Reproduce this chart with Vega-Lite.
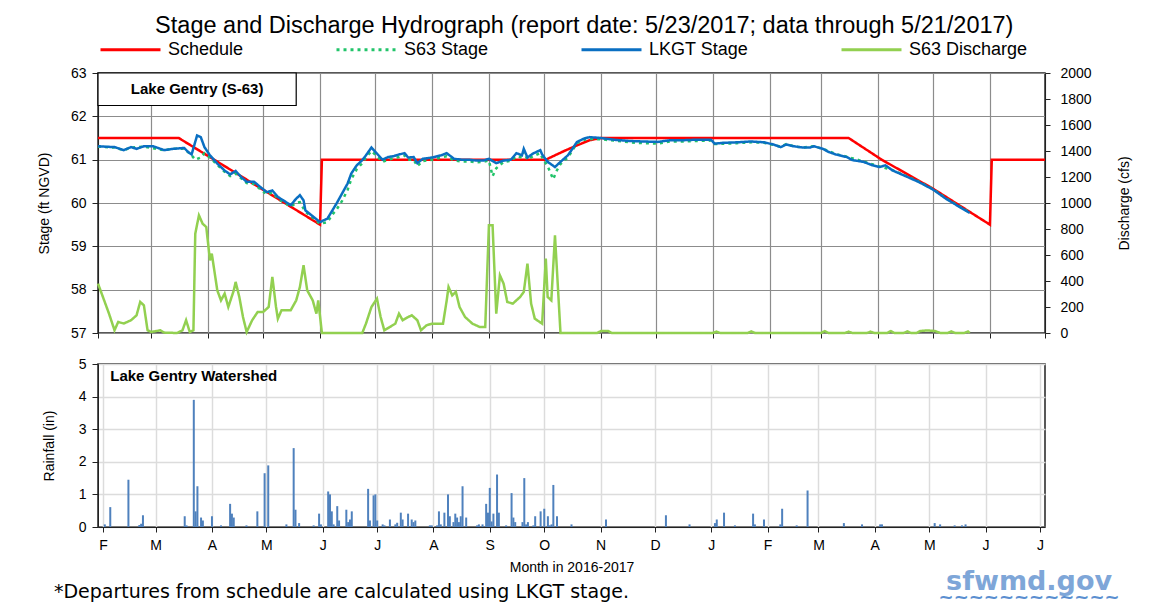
{
  "$schema": "https://vega.github.io/schema/vega-lite/v6.json",
  "background": "white",
  "padding": {"left": 36, "top": 13, "right": 5, "bottom": 2},
  "title": {"text": "Stage and Discharge Hydrograph (report date: 5/23/2017; data through 5/21/2017)", "anchor": "middle", "fontSize": 23.5, "fontWeight": "normal", "font": "Liberation Sans", "color": "#000", "offset": -20},
  "config": {
    "font": "Liberation Sans",
    "view": {"stroke": "#222", "strokeWidth": 1.5},
    "axis": {"labelFont": "Liberation Sans", "labelFontSize": 14, "labelColor": "#000", "titleFont": "Liberation Sans", "titleFontSize": 14, "titleFontWeight": "normal", "titleColor": "#000", "domainColor": "#222", "tickColor": "#222", "labelOverlap": false}
  },
  "datasets": {
    "lines": [
      {"date":"2016-02-01","series":"Schedule","v":61.5},{"date":"2016-03-16","series":"Schedule","v":61.5},{"date":"2016-06-01","series":"Schedule","v":59.5},{"date":"2016-06-02","series":"Schedule","v":61.0},{"date":"2016-10-02","series":"Schedule","v":61.0},{"date":"2016-10-06","series":"Schedule","v":61.08},{"date":"2016-10-12","series":"Schedule","v":61.2},{"date":"2016-10-19","series":"Schedule","v":61.33},{"date":"2016-10-26","series":"Schedule","v":61.45},{"date":"2016-11-01","series":"Schedule","v":61.5},{"date":"2017-03-16","series":"Schedule","v":61.5},{"date":"2017-04-03","series":"Schedule","v":61.0},{"date":"2017-05-01","series":"Schedule","v":60.33},{"date":"2017-06-01","series":"Schedule","v":59.5},{"date":"2017-06-02","series":"Schedule","v":61.0},{"date":"2017-07-01","series":"Schedule","v":61.0},

      {"date":"2016-02-01","series":"S63 Stage","v":61.3},{"date":"2016-02-10","series":"S63 Stage","v":61.28},{"date":"2016-02-15","series":"S63 Stage","v":61.22},{"date":"2016-02-19","series":"S63 Stage","v":61.28},{"date":"2016-02-26","series":"S63 Stage","v":61.3},{"date":"2016-03-08","series":"S63 Stage","v":61.22},{"date":"2016-03-13","series":"S63 Stage","v":61.25},{"date":"2016-03-19","series":"S63 Stage","v":61.25},{"date":"2016-03-23","series":"S63 Stage","v":61.1},{"date":"2016-03-25","series":"S63 Stage","v":61.0},{"date":"2016-03-28","series":"S63 Stage","v":61.05},{"date":"2016-03-30","series":"S63 Stage","v":61.15},{"date":"2016-04-02","series":"S63 Stage","v":61.05},{"date":"2016-04-06","series":"S63 Stage","v":60.88},{"date":"2016-04-10","series":"S63 Stage","v":60.72},{"date":"2016-04-13","series":"S63 Stage","v":60.62},{"date":"2016-04-16","series":"S63 Stage","v":60.68},{"date":"2016-04-19","series":"S63 Stage","v":60.57},{"date":"2016-04-22","series":"S63 Stage","v":60.46},{"date":"2016-04-26","series":"S63 Stage","v":60.44},{"date":"2016-04-30","series":"S63 Stage","v":60.3},{"date":"2016-05-03","series":"S63 Stage","v":60.2},{"date":"2016-05-06","series":"S63 Stage","v":60.24},{"date":"2016-05-09","series":"S63 Stage","v":60.1},{"date":"2016-05-12","series":"S63 Stage","v":60.02},{"date":"2016-05-16","series":"S63 Stage","v":59.92},{"date":"2016-05-19","series":"S63 Stage","v":60.0},{"date":"2016-05-21","series":"S63 Stage","v":60.02},{"date":"2016-05-24","series":"S63 Stage","v":59.8},{"date":"2016-05-29","series":"S63 Stage","v":59.62},{"date":"2016-06-01","series":"S63 Stage","v":59.52},{"date":"2016-06-05","series":"S63 Stage","v":59.56},{"date":"2016-06-08","series":"S63 Stage","v":59.75},{"date":"2016-06-10","series":"S63 Stage","v":59.85},{"date":"2016-06-13","series":"S63 Stage","v":60.05},{"date":"2016-06-16","series":"S63 Stage","v":60.3},{"date":"2016-06-18","series":"S63 Stage","v":60.55},{"date":"2016-06-21","series":"S63 Stage","v":60.78},{"date":"2016-06-24","series":"S63 Stage","v":60.92},{"date":"2016-06-26","series":"S63 Stage","v":61.05},{"date":"2016-06-29","series":"S63 Stage","v":61.2},{"date":"2016-07-02","series":"S63 Stage","v":61.08},{"date":"2016-07-05","series":"S63 Stage","v":60.95},{"date":"2016-07-08","series":"S63 Stage","v":61.0},{"date":"2016-07-11","series":"S63 Stage","v":61.03},{"date":"2016-07-14","series":"S63 Stage","v":61.06},{"date":"2016-07-17","series":"S63 Stage","v":61.1},{"date":"2016-07-19","series":"S63 Stage","v":61.0},{"date":"2016-07-22","series":"S63 Stage","v":61.0},{"date":"2016-07-24","series":"S63 Stage","v":60.85},{"date":"2016-07-27","series":"S63 Stage","v":60.97},{"date":"2016-08-01","series":"S63 Stage","v":61.0},{"date":"2016-08-06","series":"S63 Stage","v":61.05},{"date":"2016-08-09","series":"S63 Stage","v":61.08},{"date":"2016-08-13","series":"S63 Stage","v":60.98},{"date":"2016-08-17","series":"S63 Stage","v":60.96},{"date":"2016-08-21","series":"S63 Stage","v":60.96},{"date":"2016-08-25","series":"S63 Stage","v":60.94},{"date":"2016-08-29","series":"S63 Stage","v":60.95},{"date":"2016-09-01","series":"S63 Stage","v":60.98},{"date":"2016-09-03","series":"S63 Stage","v":60.62},{"date":"2016-09-05","series":"S63 Stage","v":60.8},{"date":"2016-09-09","series":"S63 Stage","v":60.95},{"date":"2016-09-13","series":"S63 Stage","v":60.97},{"date":"2016-09-16","series":"S63 Stage","v":61.08},{"date":"2016-09-19","series":"S63 Stage","v":61.05},{"date":"2016-09-20","series":"S63 Stage","v":61.18},{"date":"2016-09-22","series":"S63 Stage","v":61.0},{"date":"2016-09-25","series":"S63 Stage","v":61.08},{"date":"2016-09-29","series":"S63 Stage","v":61.15},{"date":"2016-09-30","series":"S63 Stage","v":61.05},{"date":"2016-10-03","series":"S63 Stage","v":60.85},{"date":"2016-10-06","series":"S63 Stage","v":60.55},{"date":"2016-10-08","series":"S63 Stage","v":60.75},{"date":"2016-10-10","series":"S63 Stage","v":60.9},{"date":"2016-10-14","series":"S63 Stage","v":61.05},{"date":"2016-10-16","series":"S63 Stage","v":61.18},{"date":"2016-10-19","series":"S63 Stage","v":61.38},{"date":"2016-10-23","series":"S63 Stage","v":61.46},{"date":"2016-10-26","series":"S63 Stage","v":61.48},{"date":"2016-11-01","series":"S63 Stage","v":61.47},{"date":"2016-11-08","series":"S63 Stage","v":61.44},{"date":"2016-11-17","series":"S63 Stage","v":61.4},{"date":"2016-11-24","series":"S63 Stage","v":61.38},{"date":"2016-12-02","series":"S63 Stage","v":61.37},{"date":"2016-12-09","series":"S63 Stage","v":61.42},{"date":"2016-12-16","series":"S63 Stage","v":61.42},{"date":"2016-12-23","series":"S63 Stage","v":61.43},{"date":"2016-12-31","series":"S63 Stage","v":61.44},{"date":"2017-01-02","series":"S63 Stage","v":61.36},{"date":"2017-01-07","series":"S63 Stage","v":61.37},{"date":"2017-01-14","series":"S63 Stage","v":61.38},{"date":"2017-01-22","series":"S63 Stage","v":61.4},{"date":"2017-01-29","series":"S63 Stage","v":61.39},{"date":"2017-02-03","series":"S63 Stage","v":61.34},{"date":"2017-02-07","series":"S63 Stage","v":61.3},{"date":"2017-02-10","series":"S63 Stage","v":61.36},{"date":"2017-02-14","series":"S63 Stage","v":61.31},{"date":"2017-02-19","series":"S63 Stage","v":61.28},{"date":"2017-02-25","series":"S63 Stage","v":61.31},{"date":"2017-03-02","series":"S63 Stage","v":61.25},{"date":"2017-03-09","series":"S63 Stage","v":61.13},{"date":"2017-03-15","series":"S63 Stage","v":61.07},{"date":"2017-03-24","series":"S63 Stage","v":60.96},{"date":"2017-04-02","series":"S63 Stage","v":60.84},{"date":"2017-04-09","series":"S63 Stage","v":60.76},{"date":"2017-04-16","series":"S63 Stage","v":60.63},{"date":"2017-04-23","series":"S63 Stage","v":60.5},{"date":"2017-05-01","series":"S63 Stage","v":60.32},{"date":"2017-05-08","series":"S63 Stage","v":60.11},{"date":"2017-05-15","series":"S63 Stage","v":59.93},{"date":"2017-05-21","series":"S63 Stage","v":59.78},

      {"date":"2016-02-01","series":"LKGT Stage","v":61.31},{"date":"2016-02-05","series":"LKGT Stage","v":61.3},{"date":"2016-02-10","series":"LKGT Stage","v":61.29},{"date":"2016-02-15","series":"LKGT Stage","v":61.22},{"date":"2016-02-19","series":"LKGT Stage","v":61.29},{"date":"2016-02-22","series":"LKGT Stage","v":61.25},{"date":"2016-02-26","series":"LKGT Stage","v":61.31},{"date":"2016-03-02","series":"LKGT Stage","v":61.31},{"date":"2016-03-08","series":"LKGT Stage","v":61.22},{"date":"2016-03-13","series":"LKGT Stage","v":61.25},{"date":"2016-03-19","series":"LKGT Stage","v":61.27},{"date":"2016-03-21","series":"LKGT Stage","v":61.18},{"date":"2016-03-23","series":"LKGT Stage","v":61.12},{"date":"2016-03-26","series":"LKGT Stage","v":61.56},{"date":"2016-03-28","series":"LKGT Stage","v":61.52},{"date":"2016-03-30","series":"LKGT Stage","v":61.29},{"date":"2016-04-02","series":"LKGT Stage","v":61.1},{"date":"2016-04-06","series":"LKGT Stage","v":60.91},{"date":"2016-04-10","series":"LKGT Stage","v":60.75},{"date":"2016-04-13","series":"LKGT Stage","v":60.66},{"date":"2016-04-16","series":"LKGT Stage","v":60.74},{"date":"2016-04-19","series":"LKGT Stage","v":60.6},{"date":"2016-04-22","series":"LKGT Stage","v":60.49},{"date":"2016-04-26","series":"LKGT Stage","v":60.49},{"date":"2016-04-30","series":"LKGT Stage","v":60.35},{"date":"2016-05-03","series":"LKGT Stage","v":60.25},{"date":"2016-05-06","series":"LKGT Stage","v":60.29},{"date":"2016-05-09","series":"LKGT Stage","v":60.14},{"date":"2016-05-12","series":"LKGT Stage","v":60.06},{"date":"2016-05-16","series":"LKGT Stage","v":59.95},{"date":"2016-05-19","series":"LKGT Stage","v":60.1},{"date":"2016-05-21","series":"LKGT Stage","v":60.18},{"date":"2016-05-23","series":"LKGT Stage","v":60.06},{"date":"2016-05-24","series":"LKGT Stage","v":59.83},{"date":"2016-05-29","series":"LKGT Stage","v":59.66},{"date":"2016-06-01","series":"LKGT Stage","v":59.56},{"date":"2016-06-05","series":"LKGT Stage","v":59.64},{"date":"2016-06-08","series":"LKGT Stage","v":59.85},{"date":"2016-06-10","series":"LKGT Stage","v":59.99},{"date":"2016-06-13","series":"LKGT Stage","v":60.22},{"date":"2016-06-16","series":"LKGT Stage","v":60.45},{"date":"2016-06-18","series":"LKGT Stage","v":60.68},{"date":"2016-06-21","series":"LKGT Stage","v":60.87},{"date":"2016-06-24","series":"LKGT Stage","v":60.99},{"date":"2016-06-26","series":"LKGT Stage","v":61.1},{"date":"2016-06-29","series":"LKGT Stage","v":61.28},{"date":"2016-07-02","series":"LKGT Stage","v":61.14},{"date":"2016-07-05","series":"LKGT Stage","v":61.0},{"date":"2016-07-08","series":"LKGT Stage","v":61.06},{"date":"2016-07-11","series":"LKGT Stage","v":61.08},{"date":"2016-07-14","series":"LKGT Stage","v":61.12},{"date":"2016-07-17","series":"LKGT Stage","v":61.15},{"date":"2016-07-19","series":"LKGT Stage","v":61.05},{"date":"2016-07-22","series":"LKGT Stage","v":61.06},{"date":"2016-07-24","series":"LKGT Stage","v":60.92},{"date":"2016-07-27","series":"LKGT Stage","v":61.02},{"date":"2016-08-01","series":"LKGT Stage","v":61.05},{"date":"2016-08-06","series":"LKGT Stage","v":61.1},{"date":"2016-08-09","series":"LKGT Stage","v":61.15},{"date":"2016-08-13","series":"LKGT Stage","v":61.02},{"date":"2016-08-17","series":"LKGT Stage","v":61.0},{"date":"2016-08-21","series":"LKGT Stage","v":61.0},{"date":"2016-08-25","series":"LKGT Stage","v":60.98},{"date":"2016-08-29","series":"LKGT Stage","v":60.98},{"date":"2016-09-01","series":"LKGT Stage","v":61.02},{"date":"2016-09-05","series":"LKGT Stage","v":60.92},{"date":"2016-09-09","series":"LKGT Stage","v":60.98},{"date":"2016-09-13","series":"LKGT Stage","v":61.0},{"date":"2016-09-16","series":"LKGT Stage","v":61.15},{"date":"2016-09-19","series":"LKGT Stage","v":61.1},{"date":"2016-09-20","series":"LKGT Stage","v":61.25},{"date":"2016-09-22","series":"LKGT Stage","v":61.05},{"date":"2016-09-25","series":"LKGT Stage","v":61.14},{"date":"2016-09-29","series":"LKGT Stage","v":61.22},{"date":"2016-09-30","series":"LKGT Stage","v":61.12},{"date":"2016-10-03","series":"LKGT Stage","v":60.95},{"date":"2016-10-07","series":"LKGT Stage","v":60.83},{"date":"2016-10-10","series":"LKGT Stage","v":60.95},{"date":"2016-10-14","series":"LKGT Stage","v":61.1},{"date":"2016-10-16","series":"LKGT Stage","v":61.22},{"date":"2016-10-19","series":"LKGT Stage","v":61.41},{"date":"2016-10-23","series":"LKGT Stage","v":61.49},{"date":"2016-10-26","series":"LKGT Stage","v":61.52},{"date":"2016-11-01","series":"LKGT Stage","v":61.5},{"date":"2016-11-08","series":"LKGT Stage","v":61.46},{"date":"2016-11-17","series":"LKGT Stage","v":61.43},{"date":"2016-11-24","series":"LKGT Stage","v":61.42},{"date":"2016-12-02","series":"LKGT Stage","v":61.41},{"date":"2016-12-09","series":"LKGT Stage","v":61.45},{"date":"2016-12-16","series":"LKGT Stage","v":61.45},{"date":"2016-12-23","series":"LKGT Stage","v":61.46},{"date":"2016-12-31","series":"LKGT Stage","v":61.46},{"date":"2017-01-02","series":"LKGT Stage","v":61.37},{"date":"2017-01-07","series":"LKGT Stage","v":61.39},{"date":"2017-01-14","series":"LKGT Stage","v":61.4},{"date":"2017-01-22","series":"LKGT Stage","v":61.42},{"date":"2017-01-29","series":"LKGT Stage","v":61.4},{"date":"2017-02-03","series":"LKGT Stage","v":61.35},{"date":"2017-02-07","series":"LKGT Stage","v":61.29},{"date":"2017-02-10","series":"LKGT Stage","v":61.35},{"date":"2017-02-14","series":"LKGT Stage","v":61.31},{"date":"2017-02-19","series":"LKGT Stage","v":61.28},{"date":"2017-02-23","series":"LKGT Stage","v":61.28},{"date":"2017-02-25","series":"LKGT Stage","v":61.31},{"date":"2017-03-02","series":"LKGT Stage","v":61.25},{"date":"2017-03-05","series":"LKGT Stage","v":61.18},{"date":"2017-03-09","series":"LKGT Stage","v":61.12},{"date":"2017-03-15","series":"LKGT Stage","v":61.06},{"date":"2017-03-18","series":"LKGT Stage","v":60.99},{"date":"2017-03-24","series":"LKGT Stage","v":60.95},{"date":"2017-03-29","series":"LKGT Stage","v":60.87},{"date":"2017-04-02","series":"LKGT Stage","v":60.83},{"date":"2017-04-05","series":"LKGT Stage","v":60.87},{"date":"2017-04-09","series":"LKGT Stage","v":60.75},{"date":"2017-04-16","series":"LKGT Stage","v":60.62},{"date":"2017-04-23","series":"LKGT Stage","v":60.49},{"date":"2017-05-01","series":"LKGT Stage","v":60.31},{"date":"2017-05-08","series":"LKGT Stage","v":60.1},{"date":"2017-05-15","series":"LKGT Stage","v":59.92},{"date":"2017-05-21","series":"LKGT Stage","v":59.77},

      {"date":"2016-02-01","series":"S63 Discharge","v":380},{"date":"2016-02-03","series":"S63 Discharge","v":303},{"date":"2016-02-07","series":"S63 Discharge","v":149},{"date":"2016-02-10","series":"S63 Discharge","v":21},{"date":"2016-02-12","series":"S63 Discharge","v":85},{"date":"2016-02-15","series":"S63 Discharge","v":73},{"date":"2016-02-19","series":"S63 Discharge","v":98},{"date":"2016-02-22","series":"S63 Discharge","v":136},{"date":"2016-02-24","series":"S63 Discharge","v":239},{"date":"2016-02-26","series":"S63 Discharge","v":213},{"date":"2016-02-28","series":"S63 Discharge","v":21},{"date":"2016-03-01","series":"S63 Discharge","v":8},{"date":"2016-03-06","series":"S63 Discharge","v":21},{"date":"2016-03-08","series":"S63 Discharge","v":3},{"date":"2016-03-15","series":"S63 Discharge","v":0},{"date":"2016-03-18","series":"S63 Discharge","v":20},{"date":"2016-03-20","series":"S63 Discharge","v":98},{"date":"2016-03-22","series":"S63 Discharge","v":8},{"date":"2016-03-24","series":"S63 Discharge","v":21},{"date":"2016-03-25","series":"S63 Discharge","v":764},{"date":"2016-03-27","series":"S63 Discharge","v":905},{"date":"2016-03-29","series":"S63 Discharge","v":841},{"date":"2016-03-31","series":"S63 Discharge","v":815},{"date":"2016-04-02","series":"S63 Discharge","v":559},{"date":"2016-04-03","series":"S63 Discharge","v":611},{"date":"2016-04-06","series":"S63 Discharge","v":328},{"date":"2016-04-08","series":"S63 Discharge","v":251},{"date":"2016-04-10","series":"S63 Discharge","v":303},{"date":"2016-04-12","series":"S63 Discharge","v":200},{"date":"2016-04-15","series":"S63 Discharge","v":328},{"date":"2016-04-16","series":"S63 Discharge","v":393},{"date":"2016-04-18","series":"S63 Discharge","v":277},{"date":"2016-04-20","series":"S63 Discharge","v":123},{"date":"2016-04-22","series":"S63 Discharge","v":8},{"date":"2016-04-25","series":"S63 Discharge","v":98},{"date":"2016-04-28","series":"S63 Discharge","v":162},{"date":"2016-05-01","series":"S63 Discharge","v":162},{"date":"2016-05-04","series":"S63 Discharge","v":200},{"date":"2016-05-06","series":"S63 Discharge","v":431},{"date":"2016-05-08","series":"S63 Discharge","v":200},{"date":"2016-05-09","series":"S63 Discharge","v":110},{"date":"2016-05-11","series":"S63 Discharge","v":175},{"date":"2016-05-16","series":"S63 Discharge","v":175},{"date":"2016-05-19","series":"S63 Discharge","v":251},{"date":"2016-05-21","series":"S63 Discharge","v":354},{"date":"2016-05-23","series":"S63 Discharge","v":521},{"date":"2016-05-25","series":"S63 Discharge","v":328},{"date":"2016-05-28","series":"S63 Discharge","v":251},{"date":"2016-05-30","series":"S63 Discharge","v":149},{"date":"2016-05-31","series":"S63 Discharge","v":251},{"date":"2016-06-02","series":"S63 Discharge","v":0},{"date":"2016-06-24","series":"S63 Discharge","v":0},{"date":"2016-06-26","series":"S63 Discharge","v":72},{"date":"2016-06-29","series":"S63 Discharge","v":200},{"date":"2016-07-02","series":"S63 Discharge","v":264},{"date":"2016-07-04","series":"S63 Discharge","v":123},{"date":"2016-07-06","series":"S63 Discharge","v":21},{"date":"2016-07-09","series":"S63 Discharge","v":46},{"date":"2016-07-12","series":"S63 Discharge","v":72},{"date":"2016-07-14","series":"S63 Discharge","v":149},{"date":"2016-07-16","series":"S63 Discharge","v":98},{"date":"2016-07-19","series":"S63 Discharge","v":123},{"date":"2016-07-21","series":"S63 Discharge","v":136},{"date":"2016-07-24","series":"S63 Discharge","v":98},{"date":"2016-07-26","series":"S63 Discharge","v":21},{"date":"2016-07-29","series":"S63 Discharge","v":59},{"date":"2016-08-01","series":"S63 Discharge","v":72},{"date":"2016-08-07","series":"S63 Discharge","v":72},{"date":"2016-08-09","series":"S63 Discharge","v":251},{"date":"2016-08-10","series":"S63 Discharge","v":354},{"date":"2016-08-12","series":"S63 Discharge","v":290},{"date":"2016-08-14","series":"S63 Discharge","v":316},{"date":"2016-08-16","series":"S63 Discharge","v":200},{"date":"2016-08-19","series":"S63 Discharge","v":123},{"date":"2016-08-23","series":"S63 Discharge","v":72},{"date":"2016-08-27","series":"S63 Discharge","v":46},{"date":"2016-08-30","series":"S63 Discharge","v":46},{"date":"2016-09-01","series":"S63 Discharge","v":828},{"date":"2016-09-03","series":"S63 Discharge","v":828},{"date":"2016-09-05","series":"S63 Discharge","v":149},{"date":"2016-09-07","series":"S63 Discharge","v":444},{"date":"2016-09-09","series":"S63 Discharge","v":380},{"date":"2016-09-11","series":"S63 Discharge","v":239},{"date":"2016-09-14","series":"S63 Discharge","v":226},{"date":"2016-09-18","series":"S63 Discharge","v":277},{"date":"2016-09-20","series":"S63 Discharge","v":316},{"date":"2016-09-22","series":"S63 Discharge","v":534},{"date":"2016-09-24","series":"S63 Discharge","v":226},{"date":"2016-09-26","series":"S63 Discharge","v":110},{"date":"2016-09-30","series":"S63 Discharge","v":72},{"date":"2016-10-02","series":"S63 Discharge","v":572},{"date":"2016-10-03","series":"S63 Discharge","v":277},{"date":"2016-10-05","series":"S63 Discharge","v":251},{"date":"2016-10-07","series":"S63 Discharge","v":751},{"date":"2016-10-09","series":"S63 Discharge","v":251},{"date":"2016-10-10","series":"S63 Discharge","v":0},{"date":"2016-10-30","series":"S63 Discharge","v":0},{"date":"2016-11-01","series":"S63 Discharge","v":15},{"date":"2016-11-05","series":"S63 Discharge","v":15},{"date":"2016-11-07","series":"S63 Discharge","v":0},{"date":"2017-01-01","series":"S63 Discharge","v":0},{"date":"2017-01-03","series":"S63 Discharge","v":10},{"date":"2017-01-05","series":"S63 Discharge","v":0},{"date":"2017-01-20","series":"S63 Discharge","v":0},{"date":"2017-01-22","series":"S63 Discharge","v":12},{"date":"2017-01-24","series":"S63 Discharge","v":0},{"date":"2017-03-01","series":"S63 Discharge","v":0},{"date":"2017-03-03","series":"S63 Discharge","v":15},{"date":"2017-03-05","series":"S63 Discharge","v":0},{"date":"2017-03-14","series":"S63 Discharge","v":0},{"date":"2017-03-16","series":"S63 Discharge","v":10},{"date":"2017-03-18","series":"S63 Discharge","v":0},{"date":"2017-03-26","series":"S63 Discharge","v":0},{"date":"2017-03-28","series":"S63 Discharge","v":10},{"date":"2017-03-30","series":"S63 Discharge","v":0},{"date":"2017-04-06","series":"S63 Discharge","v":0},{"date":"2017-04-08","series":"S63 Discharge","v":15},{"date":"2017-04-10","series":"S63 Discharge","v":0},{"date":"2017-04-15","series":"S63 Discharge","v":0},{"date":"2017-04-17","series":"S63 Discharge","v":12},{"date":"2017-04-19","series":"S63 Discharge","v":0},{"date":"2017-04-22","series":"S63 Discharge","v":0},{"date":"2017-04-24","series":"S63 Discharge","v":15},{"date":"2017-04-28","series":"S63 Discharge","v":20},{"date":"2017-05-02","series":"S63 Discharge","v":15},{"date":"2017-05-05","series":"S63 Discharge","v":0},{"date":"2017-05-09","series":"S63 Discharge","v":0},{"date":"2017-05-11","series":"S63 Discharge","v":12},{"date":"2017-05-13","series":"S63 Discharge","v":0},{"date":"2017-05-18","series":"S63 Discharge","v":0},{"date":"2017-05-20","series":"S63 Discharge","v":12},{"date":"2017-05-21","series":"S63 Discharge","v":0}
    ],
    "rain": [
      {"date":"2016-02-02","in":0.08},{"date":"2016-02-05","in":0.61},{"date":"2016-02-15","in":1.45},{"date":"2016-02-21","in":0.06},{"date":"2016-02-22","in":0.1},{"date":"2016-02-23","in":0.36},{"date":"2016-03-17","in":0.33},{"date":"2016-03-18","in":0.05},{"date":"2016-03-22","in":3.9},{"date":"2016-03-23","in":0.48},{"date":"2016-03-24","in":1.25},{"date":"2016-03-26","in":0.29},{"date":"2016-03-27","in":0.2},{"date":"2016-04-01","in":0.33},{"date":"2016-04-06","in":0.05},{"date":"2016-04-11","in":0.71},{"date":"2016-04-12","in":0.41},{"date":"2016-04-13","in":0.29},{"date":"2016-04-20","in":0.05},{"date":"2016-04-26","in":0.48},{"date":"2016-04-30","in":1.65},{"date":"2016-05-02","in":1.89},{"date":"2016-05-12","in":0.08},{"date":"2016-05-16","in":2.42},{"date":"2016-05-17","in":0.53},{"date":"2016-05-19","in":0.12},{"date":"2016-05-27","in":0.05},{"date":"2016-05-30","in":0.41},{"date":"2016-05-31","in":0.08},{"date":"2016-06-04","in":1.09},{"date":"2016-06-05","in":1.0},{"date":"2016-06-06","in":0.48},{"date":"2016-06-07","in":0.08},{"date":"2016-06-09","in":0.64},{"date":"2016-06-10","in":0.2},{"date":"2016-06-14","in":0.53},{"date":"2016-06-15","in":0.15},{"date":"2016-06-16","in":0.23},{"date":"2016-06-17","in":0.48},{"date":"2016-06-26","in":1.17},{"date":"2016-06-27","in":0.2},{"date":"2016-06-29","in":0.97},{"date":"2016-06-30","in":1.0},{"date":"2016-07-01","in":0.2},{"date":"2016-07-04","in":0.08},{"date":"2016-07-05","in":0.05},{"date":"2016-07-08","in":0.23},{"date":"2016-07-11","in":0.08},{"date":"2016-07-12","in":0.13},{"date":"2016-07-14","in":0.44},{"date":"2016-07-15","in":0.23},{"date":"2016-07-18","in":0.41},{"date":"2016-07-20","in":0.23},{"date":"2016-07-21","in":0.15},{"date":"2016-07-22","in":0.2},{"date":"2016-07-30","in":0.05},{"date":"2016-07-31","in":0.05},{"date":"2016-08-03","in":0.05},{"date":"2016-08-04","in":0.48},{"date":"2016-08-05","in":0.08},{"date":"2016-08-07","in":0.44},{"date":"2016-08-09","in":1.0},{"date":"2016-08-10","in":0.33},{"date":"2016-08-12","in":0.15},{"date":"2016-08-13","in":0.41},{"date":"2016-08-14","in":0.29},{"date":"2016-08-15","in":0.15},{"date":"2016-08-16","in":0.33},{"date":"2016-08-17","in":1.25},{"date":"2016-08-19","in":0.29},{"date":"2016-08-25","in":0.05},{"date":"2016-08-26","in":0.08},{"date":"2016-08-28","in":0.08},{"date":"2016-08-30","in":0.71},{"date":"2016-08-31","in":0.44},{"date":"2016-09-01","in":1.2},{"date":"2016-09-02","in":0.17},{"date":"2016-09-03","in":0.41},{"date":"2016-09-05","in":1.61},{"date":"2016-09-06","in":0.44},{"date":"2016-09-10","in":0.05},{"date":"2016-09-13","in":1.04},{"date":"2016-09-14","in":0.29},{"date":"2016-09-15","in":0.15},{"date":"2016-09-19","in":0.15},{"date":"2016-09-20","in":1.5},{"date":"2016-09-21","in":0.08},{"date":"2016-09-22","in":0.15},{"date":"2016-09-25","in":0.05},{"date":"2016-09-26","in":0.33},{"date":"2016-09-29","in":0.48},{"date":"2016-10-01","in":0.56},{"date":"2016-10-03","in":0.33},{"date":"2016-10-04","in":0.05},{"date":"2016-10-05","in":0.08},{"date":"2016-10-06","in":1.29},{"date":"2016-10-08","in":0.33},{"date":"2016-10-16","in":0.08},{"date":"2016-11-04","in":0.23},{"date":"2016-12-07","in":0.36},{"date":"2016-12-20","in":0.08},{"date":"2017-01-03","in":0.12},{"date":"2017-01-04","in":0.23},{"date":"2017-01-08","in":0.44},{"date":"2017-01-14","in":0.05},{"date":"2017-01-24","in":0.41},{"date":"2017-01-25","in":0.08},{"date":"2017-01-30","in":0.23},{"date":"2017-02-08","in":0.08},{"date":"2017-02-09","in":0.56},{"date":"2017-02-17","in":0.05},{"date":"2017-02-23","in":1.12},{"date":"2017-03-15","in":0.12},{"date":"2017-03-25","in":0.08},{"date":"2017-04-04","in":0.08},{"date":"2017-04-05","in":0.08},{"date":"2017-05-04","in":0.12},{"date":"2017-05-07","in":0.08},{"date":"2017-05-15","in":0.05},{"date":"2017-05-19","in":0.05},{"date":"2017-05-21","in":0.08}
    ]
  },
  "vconcat": [
    {
      "width": 947,
      "height": 260,
      "layer": [
        {
          "data": {"name": "lines"},
          "transform": [{"filter": "datum.series === 'S63 Discharge'"}],
          "mark": {"type": "line", "strokeWidth": 2.5},
          "encoding": {
            "x": {"field": "date", "type": "temporal",
              "scale": {"type": "utc", "domain": [{"year": 2016, "month": 2, "date": 1, "utc": true}, {"year": 2017, "month": 7, "date": 1, "utc": true}]},
              "axis": {"values": [{"year":2016,"month":2,"date":1,"utc":true},{"year":2016,"month":3,"date":1,"utc":true},{"year":2016,"month":4,"date":1,"utc":true},{"year":2016,"month":5,"date":1,"utc":true},{"year":2016,"month":6,"date":1,"utc":true},{"year":2016,"month":7,"date":1,"utc":true},{"year":2016,"month":8,"date":1,"utc":true},{"year":2016,"month":9,"date":1,"utc":true},{"year":2016,"month":10,"date":1,"utc":true},{"year":2016,"month":11,"date":1,"utc":true},{"year":2016,"month":12,"date":1,"utc":true},{"year":2017,"month":1,"date":1,"utc":true},{"year":2017,"month":2,"date":1,"utc":true},{"year":2017,"month":3,"date":1,"utc":true},{"year":2017,"month":4,"date":1,"utc":true},{"year":2017,"month":5,"date":1,"utc":true},{"year":2017,"month":6,"date":1,"utc":true},{"year":2017,"month":7,"date":1,"utc":true}],
                "labels": false, "tickSize": 5, "grid": true, "gridColor": "#8c8c8c", "gridWidth": 1.2, "domain": false, "title": null}},
            "y": {"field": "v", "type": "quantitative", "scale": {"domain": [0, 2000], "nice": false},
              "axis": {"orient": "right", "values": [0,200,400,600,800,1000,1200,1400,1600,1800,2000], "format": "d", "grid": false, "title": "Discharge (cfs)", "titleAngle": 270, "tickSize": 5, "labelPadding": 10, "titlePadding": 40, "labelOverlap": false}},
            "color": {"field": "series", "type": "nominal",
              "scale": {"domain": ["Schedule", "S63 Stage", "LKGT Stage", "S63 Discharge"], "range": ["#ff0000", "#22c46a", "#0a6fc2", "#92d050"]},
              "legend": {"orient": "none", "legendX": 1, "legendY": -55, "direction": "horizontal", "title": null, "symbolType": "stroke", "symbolSize": 3600, "symbolStrokeWidth": 3, "labelFontSize": 18, "labelFont": "Liberation Sans", "labelColor": "#000", "columnPadding": 86, "labelOffset": 6}},
            "strokeDash": {"field": "series", "type": "nominal",
              "scale": {"domain": ["Schedule", "S63 Stage", "LKGT Stage", "S63 Discharge"], "range": [[1, 0], [3, 4], [1, 0], [1, 0]]},
              "legend": {"orient": "none", "legendX": 1, "legendY": -55, "direction": "horizontal", "title": null, "symbolType": "stroke", "symbolSize": 3600, "symbolStrokeWidth": 3, "labelFontSize": 18, "labelFont": "Liberation Sans", "labelColor": "#000", "columnPadding": 86, "labelOffset": 6}}
          }
        },
        {
          "layer": [
            {
              "data": {"name": "lines"},
              "transform": [{"filter": "datum.series === 'Schedule'"}],
              "mark": {"type": "line", "strokeWidth": 2.5},
              "encoding": {
                "x": {"field": "date", "type": "temporal"},
                "y": {"field": "v", "type": "quantitative", "scale": {"domain": [57, 63], "nice": false, "zero": false},
                  "axis": {"orient": "left", "values": [57,57.5,58,58.5,59,59.5,60,60.5,61,61.5,62,62.5,63], "title": "Stage (ft NGVD)", "grid": true,
                    "gridColor": {"condition": {"test": "datum.value % 1 === 0", "value": "#8c8c8c"}, "value": "#cfcfcf"},
                    "gridWidth": 1.2,
                    "tickOpacity": {"condition": {"test": "datum.value % 1 === 0", "value": 1}, "value": 0},
                    "labelExpr": "datum.value % 1 === 0 ? datum.label : ''", "tickSize": 6, "labelPadding": 6, "titlePadding": 19, "labelOverlap": false}},
                "color": {"field": "series", "type": "nominal"},
                "strokeDash": {"field": "series", "type": "nominal"}
              }
            },
            {
              "data": {"name": "lines"},
              "transform": [{"filter": "datum.series === 'S63 Stage'"}],
              "mark": {"type": "line", "strokeWidth": 2.5},
              "encoding": {
                "x": {"field": "date", "type": "temporal"},
                "y": {"field": "v", "type": "quantitative"},
                "color": {"field": "series", "type": "nominal"},
                "strokeDash": {"field": "series", "type": "nominal"}
              }
            },
            {
              "data": {"name": "lines"},
              "transform": [{"filter": "datum.series === 'LKGT Stage'"}],
              "mark": {"type": "line", "strokeWidth": 2.5},
              "encoding": {
                "x": {"field": "date", "type": "temporal"},
                "y": {"field": "v", "type": "quantitative"},
                "color": {"field": "series", "type": "nominal"},
                "strokeDash": {"field": "series", "type": "nominal"}
              }
            },
            {
              "data": {"values": [{}]},
              "mark": {"type": "rect", "fill": "white", "stroke": "#000", "strokeWidth": 1.2},
              "encoding": {
                "x": {"datum": {"year": 2016, "month": 2, "date": 1, "utc": true}, "type": "temporal"},
                "x2": {"datum": {"year": 2016, "month": 5, "date": 19, "utc": true}},
                "y": {"datum": 62.25, "type": "quantitative"},
                "y2": {"datum": 63}
              }
            },
            {
              "data": {"values": [{}]},
              "mark": {"type": "text", "text": "Lake Gentry (S-63)", "fontWeight": "bold", "fontSize": 15, "align": "center", "baseline": "middle", "color": "#000"},
              "encoding": {
                "x": {"datum": {"year": 2016, "month": 3, "date": 26, "utc": true}, "type": "temporal"},
                "y": {"datum": 62.63, "type": "quantitative"}
              }
            }
          ]
        }
      ],
      "resolve": {"scale": {"y": "independent"}}
    },
    {
      "width": 947,
      "height": 163,
      "layer": [
        {
          "layer": [
            {
              "data": {"name": "rain"},
              "mark": {"type": "bar", "width": 2, "color": "#4f81bd"},
              "encoding": {
                "x": {"field": "date", "type": "temporal",
                  "scale": {"type": "utc", "domain": [{"year": 2016, "month": 2, "date": 1, "utc": true}, {"year": 2017, "month": 7, "date": 1, "utc": true}]},
                  "axis": {"values": [{"year":2016,"month":2,"date":1,"utc":true},{"year":2016,"month":3,"date":1,"utc":true},{"year":2016,"month":4,"date":1,"utc":true},{"year":2016,"month":5,"date":1,"utc":true},{"year":2016,"month":6,"date":1,"utc":true},{"year":2016,"month":7,"date":1,"utc":true},{"year":2016,"month":8,"date":1,"utc":true},{"year":2016,"month":9,"date":1,"utc":true},{"year":2016,"month":10,"date":1,"utc":true},{"year":2016,"month":11,"date":1,"utc":true},{"year":2016,"month":12,"date":1,"utc":true},{"year":2017,"month":1,"date":1,"utc":true},{"year":2017,"month":2,"date":1,"utc":true},{"year":2017,"month":3,"date":1,"utc":true},{"year":2017,"month":4,"date":1,"utc":true},{"year":2017,"month":5,"date":1,"utc":true},{"year":2017,"month":6,"date":1,"utc":true},{"year":2017,"month":7,"date":1,"utc":true}],
                    "labelExpr": "substring(utcFormat(datum.value, '%B'), 0, 1)", "tickSize": 5, "grid": true, "gridColor": "#dcdcdc", "gridWidth": 1.5, "title": "Month in 2016-2017", "labelPadding": 6, "titlePadding": 8, "labelOverlap": false}},
                "y": {"field": "in", "type": "quantitative", "scale": {"domain": [0, 5], "nice": false},
                  "axis": {"values": [0, 1, 2, 3, 4, 5], "tickCount": 6, "grid": true, "gridColor": "#dcdcdc", "gridWidth": 1.5, "title": "Rainfall (in)", "tickSize": 6, "labelPadding": 6, "titlePadding": 22, "labelOverlap": false}}
              }
            },
            {
              "data": {"values": [{}]},
              "mark": {"type": "text", "text": "Lake Gentry Watershed", "fontWeight": "bold", "fontSize": 15, "align": "left", "baseline": "middle", "color": "#000"},
              "encoding": {
                "x": {"datum": {"year": 2016, "month": 2, "date": 5, "utc": true}, "type": "temporal"},
                "y": {"datum": 4.62, "type": "quantitative"}
              }
            }
          ]
        },
        {
          "layer": [
            {
              "data": {"values": [{}]},
              "mark": {"type": "text", "text": "*Departures from schedule are calculated using LKGT stage.", "fontSize": 19, "font": "DejaVu Sans", "align": "left", "baseline": "middle", "color": "#000"},
              "encoding": {
                "x": {"datum": {"year": 2016, "month": 1, "date": 5, "utc": true}, "type": "temporal"},
                "y": {"datum": -2.0, "type": "quantitative", "scale": {"domain": [0, 5], "nice": false}, "axis": null}
              }
            },
            {
              "data": {"values": [{}]},
              "mark": {"type": "text", "text": "sfwmd.gov", "fontSize": 27, "fontWeight": "bold", "font": "DejaVu Sans", "align": "center", "baseline": "middle", "color": "#7ea6d8"},
              "encoding": {
                "x": {"datum": {"year": 2017, "month": 6, "date": 25, "utc": true}, "type": "temporal"},
                "y": {"datum": -1.69, "type": "quantitative"}
              }
            },
            {
              "data": {"values": [{}]},
              "mark": {"type": "text", "text": "~~~~~~~~~~~~", "fontSize": 18, "fontWeight": "bold", "font": "DejaVu Sans", "align": "center", "baseline": "middle", "color": "#5b8fd0"},
              "encoding": {
                "x": {"datum": {"year": 2017, "month": 6, "date": 25, "utc": true}, "type": "temporal"},
                "y": {"datum": -2.18, "type": "quantitative"}
              }
            }
          ]
        }
      ],
      "resolve": {"scale": {"y": "independent"}}
    }
  ],
  "spacing": 15,
  "resolve": {"scale": {"color": "independent", "strokeDash": "independent"}}
}
